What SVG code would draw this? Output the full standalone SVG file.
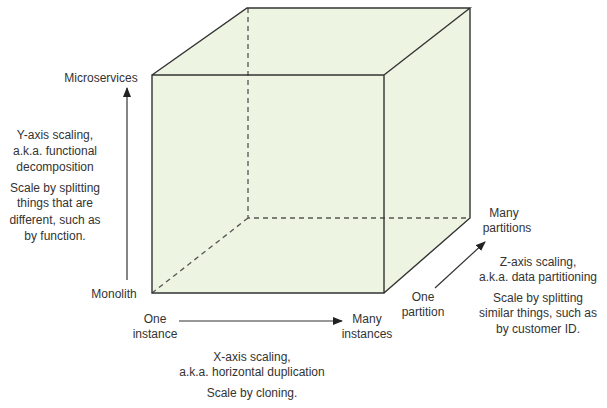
<svg xmlns="http://www.w3.org/2000/svg" width="607" height="408" viewBox="0 0 607 408">
<defs>
<marker id="ah" markerWidth="10" markerHeight="8" refX="9" refY="4" orient="auto" markerUnits="userSpaceOnUse">
<path d="M0,0 L10,4 L0,8 Z" fill="#222"/>
</marker>
<style>
text{font-family:"Liberation Sans",Arial,sans-serif;font-size:12px;fill:#333;text-anchor:middle}
.edge{fill:none;stroke:#333;stroke-width:1.4}
.dash{fill:none;stroke:#555;stroke-width:1.3;stroke-dasharray:5,4}
.face{fill:#eef4e2;stroke:none}
.arrow{fill:none;stroke:#333;stroke-width:1.2;marker-end:url(#ah)}
</style>
</defs>
<rect width="607" height="408" fill="#fff"/>
<g id="cube">
<path class="face" d="M152,75 L247,8 L470,8 L470,218 L384,293 L152,293 Z"/>
<path class="dash" d="M248,8 L248,218 L470,218 M248,218 L152,293"/>
<path class="edge" d="M152,75 L384,75 L384,293 L152,293 Z M152,75 L247,8 L470,8 L384,75 M470,8 L470,218 L384,293"/>
</g>
<g id="connectors">
<path class="arrow" d="M127,280 L127,88"/>
<path class="arrow" d="M179,321 L342,321"/>
<path class="arrow" d="M435,288 L485,242"/>
</g>
<g id="y-axis">
<text x="101" y="82">Microservices</text>
<text x="114" y="298">Monolith</text>
<text x="55" y="139">Y-axis scaling,</text>
<text x="55" y="155">a.k.a. functional</text>
<text x="55" y="171">decomposition</text>
<text x="55" y="192">Scale by splitting</text>
<text x="55" y="207">things that are</text>
<text x="55" y="224">different, such as</text>
<text x="55" y="240">by function.</text>
</g>
<g id="x-axis">
<text x="155" y="323">One</text>
<text x="155" y="338">instance</text>
<text x="367" y="323">Many</text>
<text x="367" y="338">instances</text>
<text x="252" y="361">X-axis scaling,</text>
<text x="252" y="376">a.k.a. horizontal duplication</text>
<text x="252" y="397">Scale by cloning.</text>
</g>
<g id="z-axis">
<text x="423" y="301">One</text>
<text x="423" y="316">partition</text>
<text x="504" y="217">Many</text>
<text x="507" y="232">partitions</text>
<text x="538" y="266">Z-axis scaling,</text>
<text x="538" y="281">a.k.a. data partitioning</text>
<text x="538" y="302">Scale by splitting</text>
<text x="538" y="317">similar things, such as</text>
<text x="538" y="333">by customer ID.</text>
</g>
</svg>
